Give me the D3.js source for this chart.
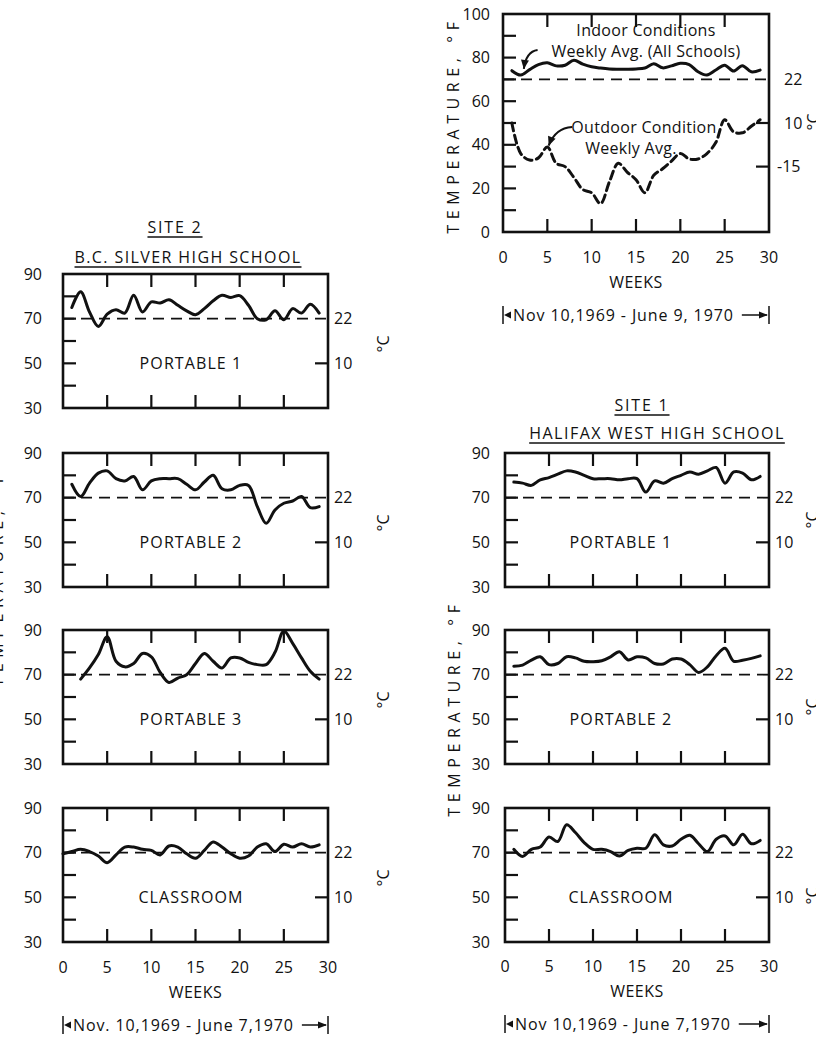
<!DOCTYPE html>
<html><head><meta charset="utf-8">
<script src="https://cdn.jsdelivr.net/npm/d3@7"></script>
<style>
body{margin:0;background:#fff;}
svg{display:block;}
text{font-family:"Open Sans",sans-serif;fill:#111;font-size:16px;}
</style>
</head><body>
<svg id="c" width="816" height="1063"></svg>
<script>
// ---------- DATA (weekly averages, °F) ----------
const weeks = [0,1,2,3,4,5,6,7,8,9,10,11,12,13,14,15,16,17,18,19,20,21,22,23,24,25,26,27,28,29];
const allIndoor  = [null,74,72,74.5,76.8,77.6,76.2,76.5,78.8,77,75.8,75.2,74.8,74.7,74.7,74.8,75.2,77.2,75.3,76.2,77.4,76.8,73.5,72,74.3,76.5,73.8,76.3,73.5,74.3];
const allOutdoor = [null,50,36,33,34,39,31.5,30,25,19.5,18,13,23,31.5,27.5,24,18,26,29,32.5,36,33.5,33.5,36,41,51.5,46,45.5,48.5,51.5];
const s2Portable1 = [null,75,82,73,66.5,72,74,72.5,80.5,73,77.5,77,78.5,76,73.5,71.8,74.5,78,80.5,79.5,80.3,76,70,69.5,73.5,69.5,74.5,72.5,76.5,72.5];
const s2Portable2 = [null,76,70.5,76.5,81,82,78.5,77.5,79.5,73.5,77.5,78.5,78.5,78.5,76,73.5,77,80,74,73.5,75.5,75.5,66,58.5,64.5,67.5,68.5,70.5,65.5,66];
const s2Portable3 = [null,null,68,73,79,87,76,73.5,75,79.5,78,71,66.5,68.5,70,75,79.5,76,73,77.5,77.5,75.5,74.5,74.5,80,89.5,84,77.5,71.5,68];
const s2Classroom = [69.5,70.5,71.5,70.5,68.5,65.5,69,72.5,72.5,71.5,71,69,73,72.5,69.5,67.5,71,74.8,72.5,69.5,67.5,68.5,72.5,74,70.5,73.8,72.5,74,72.5,73.5];
const s1Portable1 = [null,77,76.5,75.5,78,79,80.5,82,81.5,80,78.5,78.5,78.5,78,78.5,78.5,72.5,77.5,76.5,78.5,80,81.5,80.5,82,83.5,76.5,81.5,81,78,79.5];
const s1Portable2 = [null,73.8,74.3,76.5,78,74.5,75,78,77.5,76,75.8,76.2,78,80.3,76.6,78,77.5,75,74.8,77,77,74.5,71,73.5,78.5,81.8,76,76.5,77.3,78.4];
const s1Classroom = [null,71.5,68.3,71.5,72.5,77,75,82.5,79,74.5,71.5,71.5,70.5,68.5,71,72,72,78,73.5,73,76,77.8,74,70.5,76,77.5,73.5,78.2,74,75.5];

const weekTicks = [0,5,10,15,20,25,30];
const panelFTicks = [30,50,70,90];
const topFTicks = [0,20,40,60,80,100];
const comfortF = 70;
const celsiusPanel = [{f:70,c:"22"},{f:50,c:"10"}];
const celsiusTop = [{f:70,c:"22"},{f:50,c:"10"},{f:30,c:"-15"}];

// ---------- DRAW ----------
const svg = d3.select("#c");
const INK = "#111";

function drawPanel(cfg){
  const g = svg.append("g");
  const x = d3.scaleLinear().domain([0,30]).range([cfg.x0, cfg.x1]);
  const y = d3.scaleLinear().domain(cfg.yDomain).range([cfg.top+cfg.h, cfg.top]);
  const tl = 13;
  cfg.leftTickVals.forEach(v=>{
    g.append("line").attr("x1",x(0)).attr("x2",x(0)+tl).attr("y1",y(v)).attr("y2",y(v))
      .attr("stroke",INK).attr("stroke-width",2.2);
  });
  cfg.rightTickVals.forEach(v=>{
    g.append("line").attr("x1",x(30)).attr("x2",x(30)-tl).attr("y1",y(v)).attr("y2",y(v))
      .attr("stroke",INK).attr("stroke-width",2.2);
  });
  [5,10,15,20,25].forEach(w=>{
    g.append("line").attr("x1",x(w)).attr("x2",x(w)).attr("y1",cfg.top).attr("y2",cfg.top+tl)
      .attr("stroke",INK).attr("stroke-width",2.2);
    g.append("line").attr("x1",x(w)).attr("x2",x(w)).attr("y1",cfg.top+cfg.h).attr("y2",cfg.top+cfg.h-tl)
      .attr("stroke",INK).attr("stroke-width",2.2);
  });
  g.append("line").attr("x1",x(0)).attr("x2",x(30)).attr("y1",y(comfortF)).attr("y2",y(comfortF))
    .attr("stroke",INK).attr("stroke-width",1.8).attr("stroke-dasharray","11,7");
  g.append("rect").attr("x",x(0)).attr("y",cfg.top).attr("width",x(30)-x(0)).attr("height",cfg.h)
    .attr("fill","none").attr("stroke",INK).attr("stroke-width",2.6);
  cfg.fTicks.forEach(v=>{
    g.append("text").attr("x",cfg.labelX).attr("y",y(v)).attr("dy","0.35em")
      .attr("text-anchor","end").text(v);
  });
  cfg.cLabels.forEach(d=>{
    g.append("text").attr("x",x(30)+(d.c==="-15"?cfg.cOffNeg:cfg.cOff)).attr("y",y(d.f)).attr("dy","0.35em")
      .text(d.c);
  });
  g.append("text").attr("transform",`translate(${cfg.degX},${cfg.degY}) rotate(-90)`)
    .attr("text-anchor","middle").text("°C");
  if(cfg.label){
    g.append("text").attr("x",cfg.labelCx).attr("y",y(50)).attr("dy","0.35em")
      .attr("text-anchor","middle").attr("letter-spacing","1.1px").text(cfg.label);
  }
  const line = d3.line().defined(d=>d[1]!=null).x(d=>x(d[0])).y(d=>y(d[1])).curve(d3.curveCatmullRom.alpha(0.5));
  cfg.series.forEach(s=>{
    const pts = weeks.map((w,i)=>[w,s.values[i]]);
    g.append("path").attr("d",line(pts)).attr("fill","none").attr("stroke",INK)
      .attr("stroke-width",3).attr("stroke-linejoin","round").attr("stroke-linecap","round")
      .attr("stroke-dasharray",s.dash||null);
  });
  if(cfg.xLabels){
    weekTicks.forEach(w=>{
      g.append("text").attr("x",x(w)).attr("y",cfg.xLabelY).attr("dy","0.35em")
        .attr("text-anchor","middle").text(w);
    });
    g.append("text").attr("x",(x(0)+x(30))/2).attr("y",cfg.xLabelY+25).attr("dy","0.35em")
      .attr("text-anchor","middle").attr("letter-spacing","0.5px").text("WEEKS");
    const by = cfg.xLabelY+58;
    g.append("line").attr("x1",x(0)).attr("x2",x(0)).attr("y1",by-9).attr("y2",by+9).attr("stroke",INK).attr("stroke-width",1.5);
    g.append("line").attr("x1",x(30)).attr("x2",x(30)).attr("y1",by-9).attr("y2",by+9).attr("stroke",INK).attr("stroke-width",1.5);
    g.append("path").attr("d",`M${x(0)+1},${by} l7,-3.5 l0,7 z`).attr("fill",INK);
    const t = g.append("text").attr("x",x(0)+10).attr("y",by).attr("dy","0.35em")
      .attr("letter-spacing","0.9px").text(cfg.dateText);
    const tw = t.node().getComputedTextLength();
    const ax0 = x(0)+10+tw+8;
    g.append("line").attr("x1",ax0).attr("x2",x(30)-2).attr("y1",by).attr("y2",by).attr("stroke",INK).attr("stroke-width",1.5);
    g.append("path").attr("d",`M${x(30)-1},${by} l-9,-3.5 l0,7 z`).attr("fill",INK);
  }
  return {x,y,g};
}

function yTitle(cx, cy){
  svg.append("text").attr("transform",`translate(${cx},${cy}) rotate(-90)`)
    .attr("text-anchor","middle").attr("letter-spacing","5.6px").text("TEMPERATURE, °F");
}

function title(text, cx, cy, ls){
  const t = svg.append("text").attr("x",cx).attr("y",cy).attr("dy","0.35em")
    .attr("text-anchor","middle").attr("letter-spacing",ls).text(text);
  const b = t.node().getBBox();
  svg.append("line").attr("x1",b.x).attr("x2",b.x+b.width).attr("y1",cy+10).attr("y2",cy+10)
    .attr("stroke",INK).attr("stroke-width",1.6);
}

// ---- Top: all schools ----
const topChart = drawPanel({x0:503,x1:769,top:14,h:218,yDomain:[0,100],
  leftTickVals:[10,20,30,40,50,60,70,80,90], rightTickVals:[30,50],
  fTicks:topFTicks, labelX:490, cLabels:celsiusTop, cOff:15, cOffNeg:8,
  degX:819, degY:122, label:null, labelCx:0,
  series:[{values:allIndoor},{values:allOutdoor,dash:"8,4.5"}],
  xLabels:true, xLabelY:257, dateText:"Nov 10,1969 - June 9, 1970"});
yTitle(459,125);
{
  const {x,y,g} = topChart;
  g.append("text").attr("x",646).attr("y",30).attr("dy","0.35em").attr("text-anchor","middle").attr("letter-spacing","0.3px").text("Indoor Conditions");
  g.append("text").attr("x",646).attr("y",51).attr("dy","0.35em").attr("text-anchor","middle").attr("letter-spacing","0.3px").text("Weekly Avg. (All Schools)");
  g.append("text").attr("x",644).attr("y",127).attr("dy","0.35em").attr("text-anchor","middle").attr("letter-spacing","0.3px").text("Outdoor Condition");
  g.append("text").attr("x",631).attr("y",148).attr("dy","0.35em").attr("text-anchor","middle").attr("letter-spacing","0.3px").text("Weekly Avg.");
  function arrow(w0,t0,wc,tc,w1,t1){
    const p0=[x(w0),y(t0)], pc=[x(wc),y(tc)], p1=[x(w1),y(t1)];
    g.append("path").attr("d",`M${p0}Q${pc} ${p1}`).attr("fill","none").attr("stroke",INK).attr("stroke-width",2);
    const ang = Math.atan2(p1[1]-pc[1],p1[0]-pc[0]);
    const L=9,W=4;
    const bx=p1[0]-L*Math.cos(ang), byy=p1[1]-L*Math.sin(ang);
    g.append("path").attr("d",`M${p1}L${bx-W*Math.sin(ang)},${byy+W*Math.cos(ang)}L${bx+W*Math.sin(ang)},${byy-W*Math.cos(ang)}Z`).attr("fill",INK);
  }
  arrow(3.9,83.5, 2.6,82.8, 2.35,74.8);
  arrow(7.8,48.2, 5.9,47.8, 5.15,39.6);
}

// ---- Site 2 (left) ----
title("SITE  2",175,227,"1.8px");
title("B.C. SILVER HIGH SCHOOL",188,257,"1.4px");
const leftCfg = {x0:63,x1:328,h:134,yDomain:[30,90],leftTickVals:[40,50,60,70,80],rightTickVals:[50],
  fTicks:panelFTicks,labelX:42,cLabels:celsiusPanel,cOff:6,cOffNeg:6,degX:389,labelCx:191};
[{top:274,label:"PORTABLE  1",vals:s2Portable1},
 {top:453,label:"PORTABLE  2",vals:s2Portable2},
 {top:630,label:"PORTABLE  3",vals:s2Portable3},
 {top:808,label:"CLASSROOM",vals:s2Classroom,xl:true}].forEach(p=>{
  drawPanel(Object.assign({},leftCfg,{top:p.top,degY:p.top+70,label:p.label,series:[{values:p.vals}],
    xLabels:!!p.xl,xLabelY:967,dateText:"Nov. 10,1969 - June 7,1970"}));
});
yTitle(3,578);

// ---- Site 1 (right) ----
title("SITE  1",642,405,"1.8px");
title("HALIFAX WEST HIGH SCHOOL",657,433,"1.5px");
const rightCfg = {x0:505,x1:769,h:134,yDomain:[30,90],leftTickVals:[40,50,60,70,80],rightTickVals:[50],
  fTicks:panelFTicks,labelX:490,cLabels:celsiusPanel,cOff:6,cOffNeg:6,degX:818,labelCx:621};
[{top:453,label:"PORTABLE  1",vals:s1Portable1,dy:67},
 {top:630,label:"PORTABLE  2",vals:s1Portable2,dy:77},
 {top:808,label:"CLASSROOM",vals:s1Classroom,dy:88,xl:true}].forEach(p=>{
  drawPanel(Object.assign({},rightCfg,{top:p.top,degY:p.top+p.dy,label:p.label,series:[{values:p.vals}],
    xLabels:!!p.xl,xLabelY:966,dateText:"Nov 10,1969 - June 7,1970"}));
});
yTitle(460,708);
</script>
</body></html>
